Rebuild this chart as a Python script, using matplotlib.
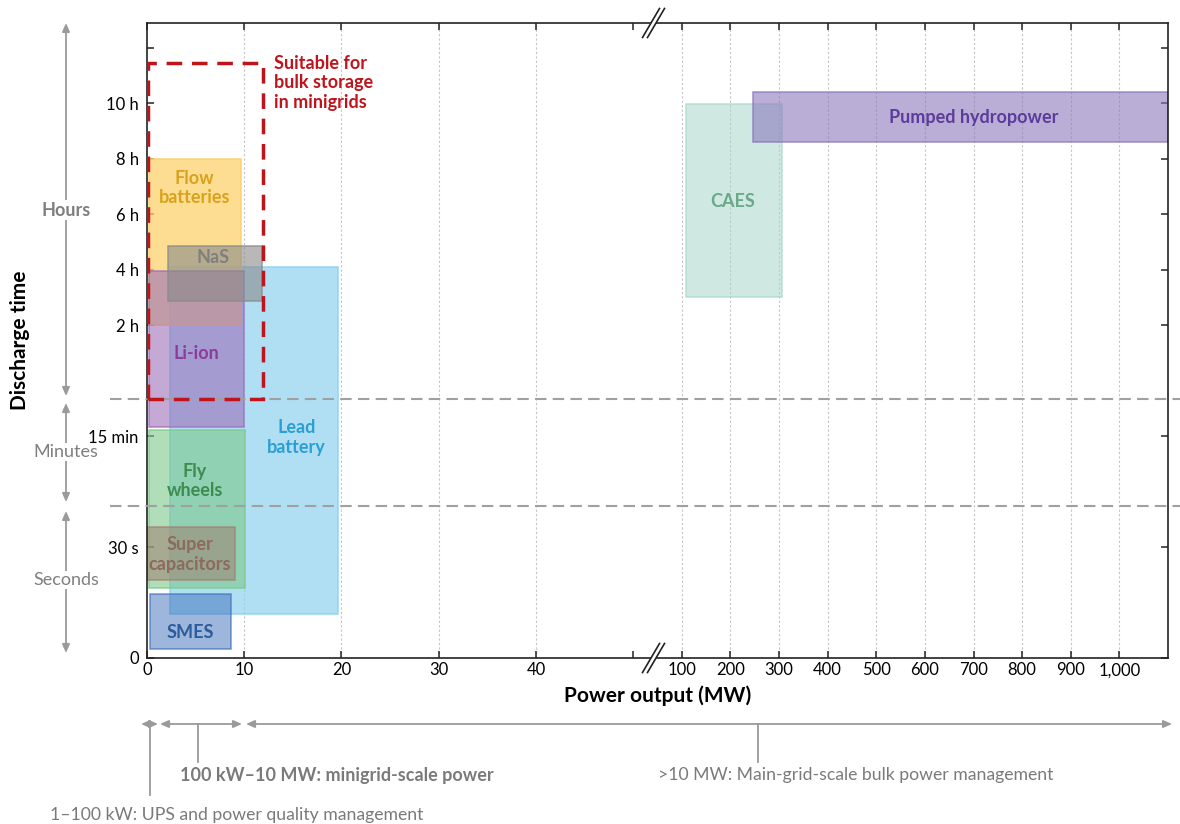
import numpy as np
import matplotlib
matplotlib.use("Agg")
import matplotlib.pyplot as plt
from matplotlib.colors import to_rgba
from matplotlib.lines import Line2D
from matplotlib.patches import FancyArrowPatch

plt.rcParams["font.family"] = ["Lato", "DejaVu Sans"]

W, H = 1180, 824

# storage technologies: power range (MW) and discharge time range (seconds)
techs = ["Lead\nbattery", "Flow\nbatteries", "Li-ion", "NaS", "Fly\nwheels",
         "Super\ncapacitors", "SMES", "CAES", "Pumped hydropower"]
power_min = [2.4, 0.2, 0.2, 2.2, 0.2, 0.0, 0.3, 108, 246]
power_max = [19.6, 9.7, 10.0, 11.8, 10.1, 9.0, 8.6, 306, 1100]
time_min = [12, 7200, 1400, 10300, 19, 21, 2.4, 10900, 31000]
time_max = [14800, 28800, 14200, 17400, 1250, 187, 17.3, 35900, 37400]

# where each name is written (MW, seconds)
label_power = [15.4, 4.9, 5.1, 6.8, 4.9, 4.4, 4.4, 205, 700]
label_time = [890, 25000, 5600, 16000, 548, 28, 6.8, 23300, 34200]

fills = ["#8fd2f0", "#fcd26e", "#9c70b8", "#8a8a8a", "#7cc98a",
         "#a08070", "#3e6eb8", "#a8d8cb", "#8c78bc"]
alphas = [0.7, 0.75, 0.6, 0.6, 0.6, 0.55, 0.5, 0.55, 0.6]
text_colors = ["#2b9fd4", "#d9a21b", "#8e3a9e", "#7f7f7f", "#3d8c4f",
               "#8c6a5c", "#2a5b9c", "#6aa88a", "#5b3b9b"]

# minigrid bulk storage window
mg_power = [0.1, 11.9]
mg_time = [3010, 41200]

# boundaries between hours / minutes / seconds
hours_minutes = 3010
minutes_seconds = 352

power_ticks = [0, 10, 20, 30, 40, 50, 100, 200, 300, 400, 500, 600, 700, 800, 900, 1000]
power_labels = ["0", "10", "20", "30", "40", "", "100", "200", "300", "400", "500",
                "600", "700", "800", "900", "1,000"]
power_grid = [10, 20, 30, 40, 100, 200, 300, 400, 500, 600, 700, 800, 900, 1000]
time_ticks = [0, 30, 900, 7200, 14400, 21600, 28800, 36000, 43200]
time_labels = ["0", "30 s", "15 min", "2 h", "4 h", "6 h", "8 h", "10 h", ""]

# broken axis scales
def x_fwd(x):
    x = np.asarray(x, dtype=float)
    return np.where(x <= 50, x, np.where(x < 100, 50 + (x - 50) * 0.1, 55 + (x - 100) * 0.05))

def x_inv(u):
    u = np.asarray(u, dtype=float)
    return np.where(u <= 50, u, np.where(u < 55, 50 + (u - 50) * 10, 100 + (u - 55) * 20))

y_knot_s = [0, 30, 900, 7200, 14400, 21600, 28800, 36000, 43200, 50400]
y_knot_u = [0, 2, 4, 6, 7, 8, 9, 10, 11, 12]

def y_fwd(s):
    return np.interp(s, y_knot_s, y_knot_u)

def y_inv(u):
    return np.interp(u, y_knot_u, y_knot_s)


def fp(x, y):
    return (x / W, 1 - y / H)


fig = plt.figure(figsize=(W / 100, H / 100), dpi=100)
ax = fig.add_axes([147 / W, 1 - 658 / H, 1021 / W, 635 / H])
ax.set_xscale("function", functions=(x_fwd, x_inv))
ax.set_yscale("function", functions=(y_fwd, y_inv))

for xg in power_grid:
    ax.axvline(xg, color="#c4c4c4", lw=0.8, ls=(0, (2, 2)), zorder=1)

for i in range(len(techs)):
    ax.bar(power_min[i], time_max[i] - time_min[i], width=power_max[i] - power_min[i],
           bottom=time_min[i], align="edge",
           facecolor=to_rgba(fills[i], alphas[i]),
           edgecolor=to_rgba(fills[i], min(1, alphas[i] + 0.15)), linewidth=1.2, zorder=2)

for i in range(len(techs)):
    ax.text(label_power[i], label_time[i], techs[i], color=text_colors[i], fontsize=13,
            fontweight="bold", ha="center", va="center", linespacing=1.2, zorder=5)

ax.bar(mg_power[0], mg_time[1] - mg_time[0], width=mg_power[1] - mg_power[0],
       bottom=mg_time[0], align="edge", fill=False, edgecolor="#c0141c", linewidth=2.5,
       linestyle=(0, (4.5, 2.8)), zorder=4)
ax.text(13.1, 42300, "Suitable for\nbulk storage\nin minigrids", color="#c0141c",
        fontsize=13, fontweight="bold", ha="left", va="top", linespacing=1.2, zorder=5)

for yb in [hours_minutes, minutes_seconds]:
    ax.axhline(yb, xmin=-0.036, xmax=1.012, color="#a0a0a0", lw=1.5,
               ls=(0, (5.5, 3)), clip_on=False, zorder=3)

ax.set_xlim(0, 1100)
ax.set_ylim(0, 46400)
ax.set_xticks(power_ticks)
ax.set_xticklabels(power_labels)
ax.set_yticks(time_ticks)
ax.set_yticklabels(time_labels)
ax.tick_params(direction="in", top=True, right=True, length=5, width=1.1,
               labelsize=12, color="#222222")
ax.tick_params(axis="x", pad=3)
ax.tick_params(axis="y", pad=6)
for sp in ax.spines.values():
    sp.set_linewidth(1.2)
    sp.set_color("#222222")

ax.set_xlabel("Power output (MW)", fontsize=15, fontweight="bold", labelpad=5)
ax.set_ylabel("Discharge time", fontsize=15, fontweight="bold")
ax.yaxis.set_label_coords(-0.115, 0.5)

# axis break marks
for yy in [23, 658]:
    c = 653.5
    fig.add_artist(Line2D([(c - 6) / W, (c + 6) / W], [1 - (yy + 10) / H, 1 - (yy - 10) / H],
                          transform=fig.transFigure, color="white", lw=3, zorder=10))
    for cx in [651, 656]:
        fig.add_artist(Line2D([(cx - 8.5) / W, (cx + 8.5) / W],
                              [1 - (yy + 14.5) / H, 1 - (yy - 14.5) / H],
                              transform=fig.transFigure, color="#222222", lw=1.2, zorder=11))

grey = "#9a9a9a"
arrow = dict(arrowstyle="<|-|>,head_length=0.5,head_width=0.22", color=grey, lw=1.3,
             shrinkA=0, shrinkB=0, mutation_scale=10)

# left side time bands
for y0, y1, name, yt, wt in [(23, 396, "Hours", 210, "bold"),
                             (403, 502, "Minutes", 452, "normal"),
                             (511, 653, "Seconds", 580, "normal")]:
    fig.add_artist(FancyArrowPatch(fp(66, y0), fp(66, y1), transform=fig.transFigure, **arrow))
    fig.text(*fp(66, yt), name, ha="center", va="center", fontsize=13, fontweight=wt,
             color="#7f7f7f", bbox=dict(facecolor="white", edgecolor="none", pad=1))

# bottom power bands
for x0, x1 in [(141, 158), (160, 242), (246, 1172)]:
    fig.add_artist(FancyArrowPatch(fp(x0, 724), fp(x1, 724), transform=fig.transFigure, **arrow))
for xl, yl in [(150, 795), (198, 762), (758, 762)]:
    fig.add_artist(Line2D([xl / W, xl / W], [1 - 724 / H, 1 - yl / H],
                          transform=fig.transFigure, color=grey, lw=1.3))

fig.text(*fp(50, 815), "1\u2013100 kW: UPS and power quality management", ha="left",
         va="center", fontsize=12.7, color="#7a7a7a")
fig.text(*fp(180, 775), "100 kW\u201310 MW: minigrid-scale power", ha="left",
         va="center", fontsize=13, fontweight="bold", color="#7a7a7a")
fig.text(*fp(658, 775), ">10 MW: Main-grid-scale bulk power management", ha="left",
         va="center", fontsize=12.7, color="#7a7a7a")

fig.savefig("out.png", dpi=100)
